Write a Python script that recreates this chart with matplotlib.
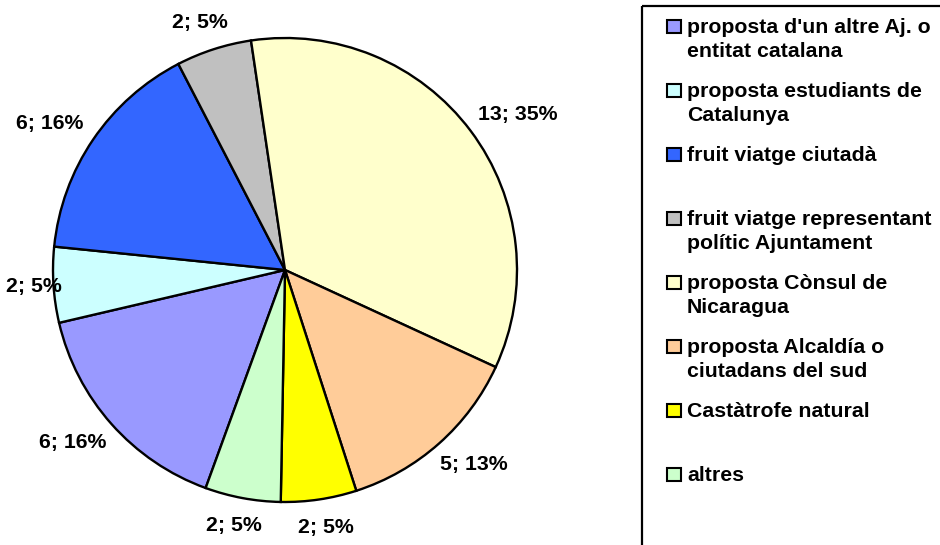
import matplotlib
matplotlib.use("Agg")
import matplotlib.pyplot as plt
from matplotlib.patches import Rectangle
import numpy as np

plt.rcParams['font.family'] = ['Liberation Sans', 'DejaVu Sans']

categories = ["proposta d'un altre Aj. o\nentitat catalana",
              "proposta estudiants de\nCatalunya",
              "fruit viatge ciutadà",
              "fruit viatge representant\npolític Ajuntament",
              "proposta Cònsul de\nNicaragua",
              "proposta Alcaldía o\nciutadans del sud",
              "Castàtrofe natural",
              "altres"]
counts = [6, 2, 6, 2, 13, 5, 2, 2]
pcts = [16, 5, 16, 5, 35, 13, 5, 5]
colors = ['#9999FF', '#CCFFFF', '#3366FF', '#C0C0C0',
          '#FFFFCC', '#FFCC99', '#FFFF00', '#CCFFCC']

W, H = 940, 545
fig = plt.figure(figsize=(W / 100, H / 100), dpi=100)
fig.patch.set_facecolor('white')

# pie: centre (285,270), radius 232 px
cx, cy, R = 285, 270, 232
ax = fig.add_axes([(cx - R) / W, (H - cy - R) / H, 2 * R / W, 2 * R / H])
wedges, _ = ax.pie(counts, colors=colors, startangle=250, counterclock=False,
                   radius=1.0,
                   wedgeprops=dict(edgecolor='black', linewidth=1.7))
ax.set_xlim(-1, 1)
ax.set_ylim(-1, 1)
ax.axis('off')

fs = 15.3
labels = [f"{c}; {p}%" for c, p in zip(counts, pcts)]
texts = []
for w, lab in zip(wedges, labels):
    th = np.deg2rad((w.theta1 + w.theta2) / 2)
    t = ax.text(1.08 * np.cos(th), 1.08 * np.sin(th), lab, ha='center', va='center',
                fontsize=fs, fontweight='bold', clip_on=False)
    texts.append((t, th))

# push each label outward by half its size (Excel-like placement),
# but keep it inside the figure
fig.canvas.draw()
rend = fig.canvas.get_renderer()
for t, th in texts:
    bb = t.get_window_extent(rend)
    px, py = ax.transData.transform(t.get_position())
    px += bb.width / 2 * np.cos(th)
    py += bb.height / 2 * np.sin(th)
    px = max(px, bb.width / 2 + 6)
    t.set_position(ax.transData.inverted().transform((px, py)))

# legend drawn in pixel coordinates
lg = fig.add_axes([0, 0, 1, 1])
lg.set_xlim(0, W)
lg.set_ylim(H, 0)
lg.axis('off')
lg.patch.set_alpha(0)
lg.add_patch(Rectangle((642, 6), 320, 560, facecolor='none', edgecolor='black',
                       linewidth=1.6))
for i, (cat, col) in enumerate(zip(categories, colors)):
    base = 33 + 64 * i
    lg.add_patch(Rectangle((667, base - 13), 14, 13, facecolor=col,
                           edgecolor='black', linewidth=1.5))
    for j, line in enumerate(cat.split('\n')):
        lg.text(687, base + 24 * j, line, ha='left', va='baseline',
                fontsize=fs, fontweight='bold')

fig.savefig('out.png', dpi=100, facecolor='white')
